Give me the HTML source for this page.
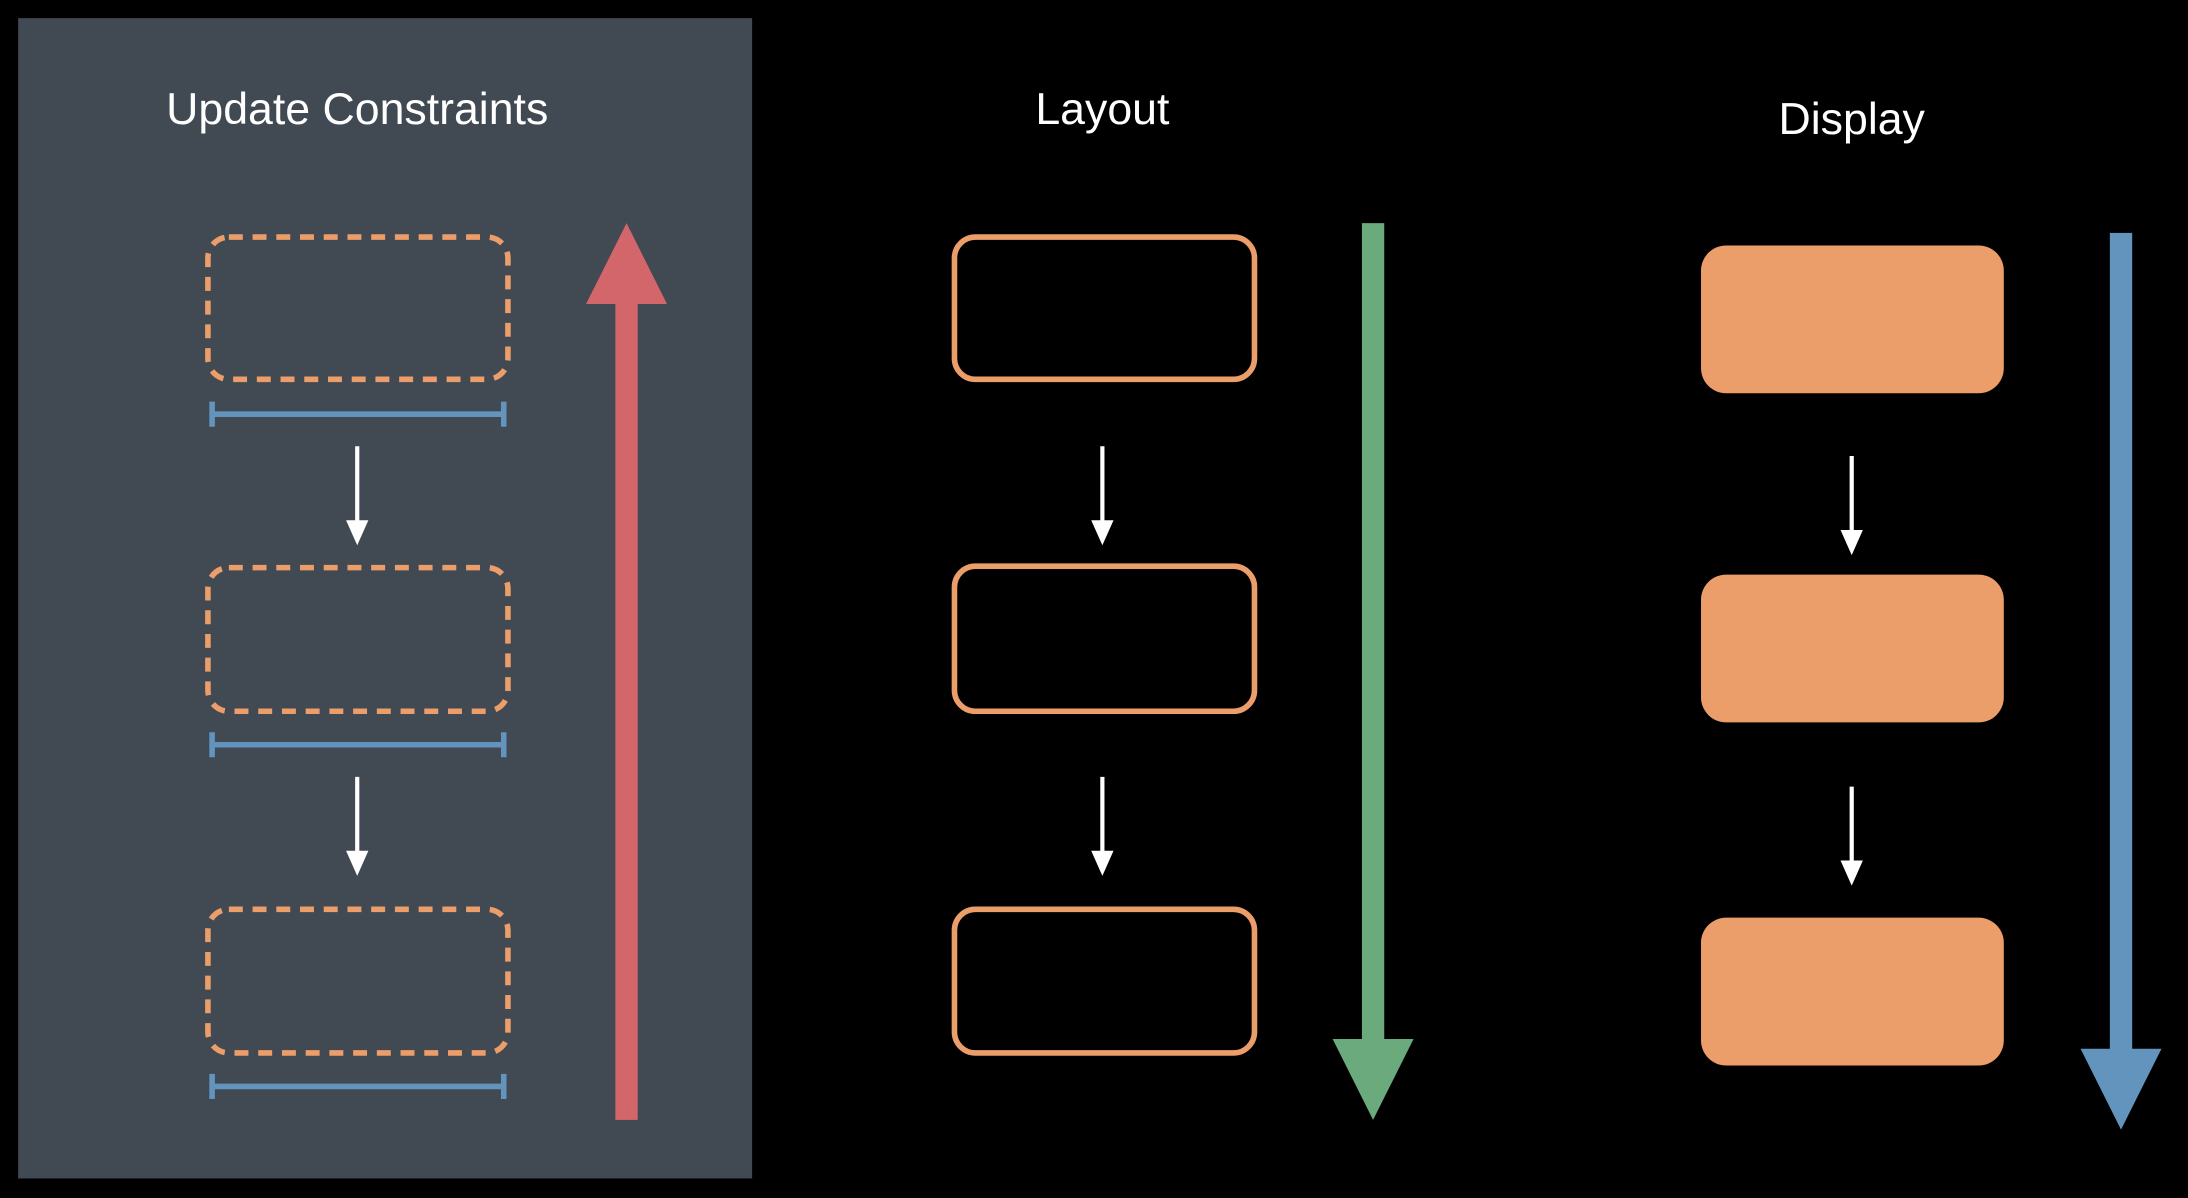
<!DOCTYPE html>
<html><head><meta charset="utf-8"><style>
html,body{margin:0;padding:0;background:#000;}
svg{display:block;}
text{font-family:"Liberation Sans",sans-serif;fill:#fff;font-size:32px;text-anchor:middle;}
</style></head><body>
<svg width="2188" height="1198" viewBox="0 0 1568 859" preserveAspectRatio="none">
<rect x="0" y="0" width="1568" height="859" fill="#000"/>
<rect x="13" y="13" width="526" height="832" fill="#414953"/>
<text x="256" y="89">Update Constraints</text>
<text x="790" y="89">Layout</text>
<text x="1327" y="96">Display</text>
<g fill="none" stroke="#EB9D6A" stroke-width="4" stroke-dasharray="10 7">
<rect x="149" y="170" width="215" height="102" rx="15"/>
<rect x="149" y="407" width="215" height="103" rx="15"/>
<rect x="149" y="652" width="215" height="103" rx="15"/>
</g>
<g stroke="#6294BE" stroke-width="4" fill="none">
<path d="M152 297H361M152 288V306M361 288V306"/>
<path d="M152 534H361M152 525V543M361 525V543"/>
<path d="M152 779H361M152 770V788M361 770V788"/>
</g>
<g fill="none" stroke="#EB9D6A" stroke-width="4">
<rect x="684" y="170" width="215" height="102" rx="15"/>
<rect x="684" y="406" width="215" height="104" rx="15"/>
<rect x="684" y="652" width="215" height="103" rx="15"/>
</g>
<g fill="#EB9D6A">
<rect x="1219" y="176" width="217" height="106" rx="18"/>
<rect x="1219" y="412" width="217" height="106" rx="18"/>
<rect x="1219" y="658" width="217" height="106" rx="18"/>
</g>
<g stroke="#fff" stroke-width="3">
<path d="M256 320V375M256 557V612M790 320V375M790 557V612M1327 327V382M1327 564V619"/>
</g>
<g fill="#fff">
<path d="M248 373H264L256 391Z M248 610H264L256 628Z M782 373H798L790 391Z M782 610H798L790 628Z M1319 380H1335L1327 398Z M1319 617H1335L1327 635Z"/>
</g>
<rect x="441" y="216" width="16" height="587" fill="#D3666B"/>
<path d="M420 218H478L449 160Z" fill="#D3666B"/>
<rect x="976" y="160" width="16" height="587" fill="#6AAA7C"/>
<path d="M955 745H1013L984 803Z" fill="#6AAA7C"/>
<rect x="1512" y="167" width="16" height="587" fill="#6294BE"/>
<path d="M1491 752H1549L1520 810Z" fill="#6294BE"/>
</svg>
</body></html>
